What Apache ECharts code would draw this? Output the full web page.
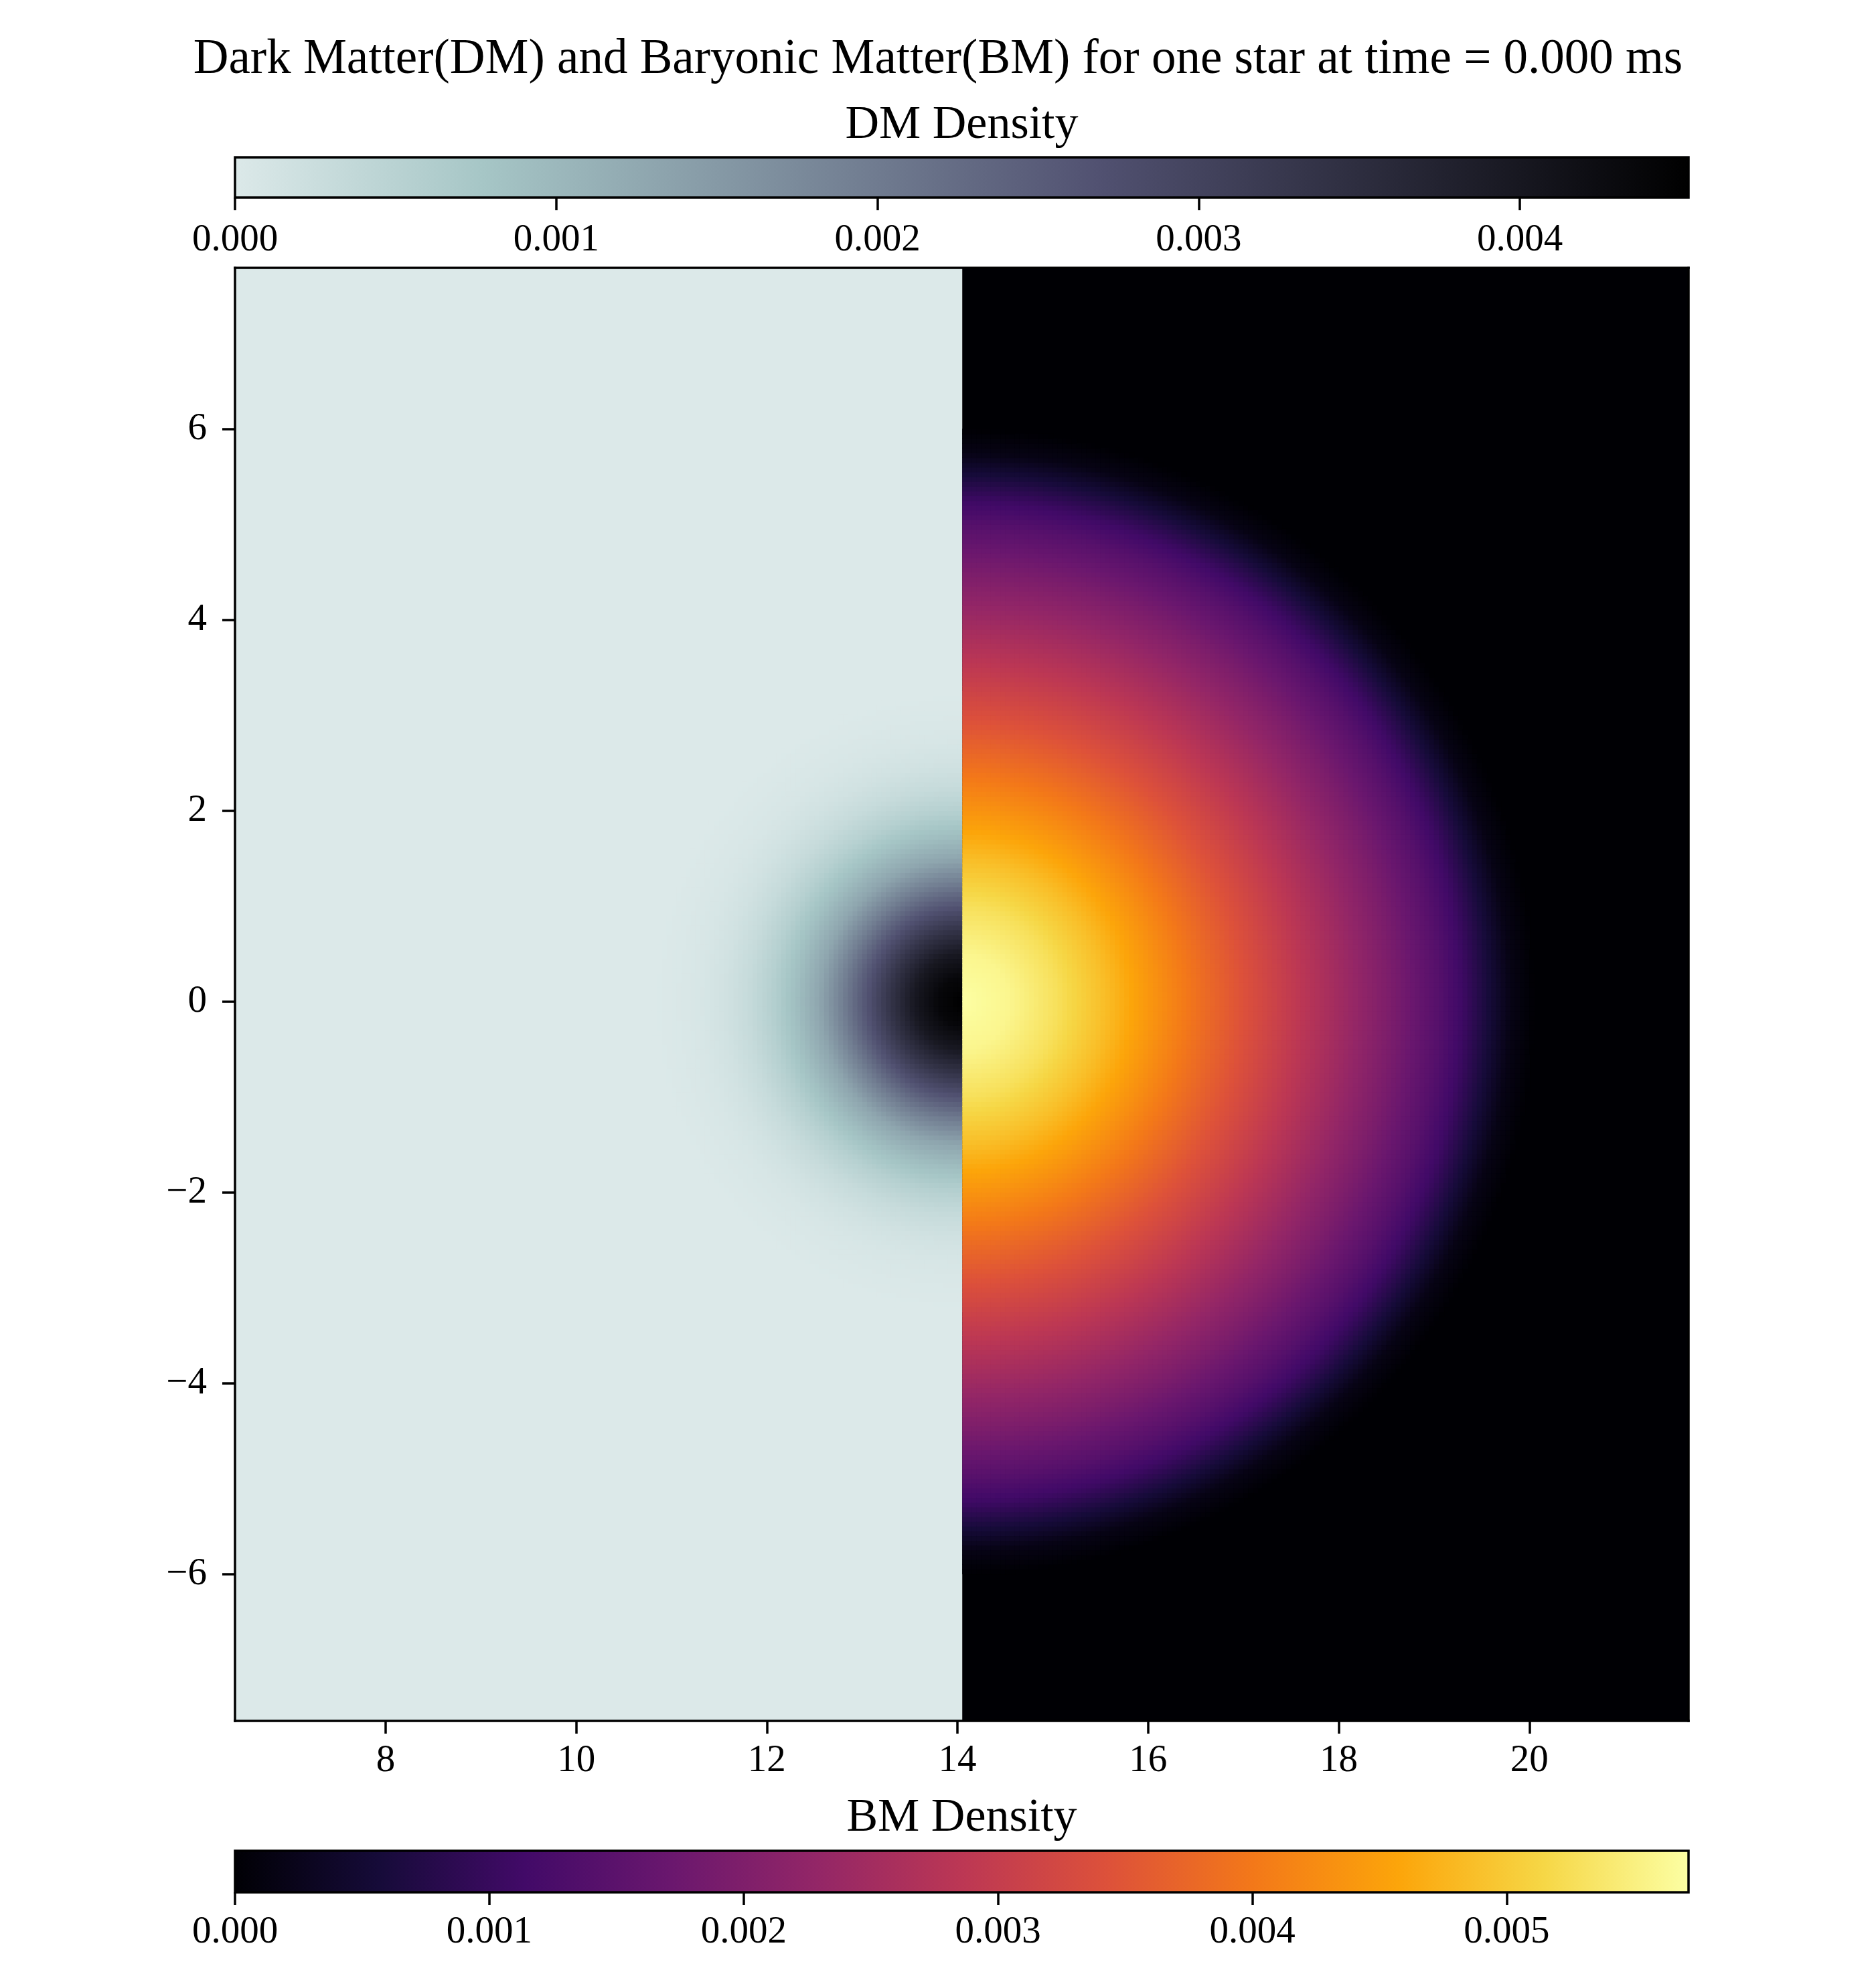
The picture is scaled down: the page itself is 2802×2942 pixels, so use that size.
<!DOCTYPE html>
<html>
<head>
<meta charset="utf-8">
<title>DM and BM density</title>
<script src="https://cdn.jsdelivr.net/npm/echarts@6/dist/echarts.min.js"></script>
<style>
  html, body { margin: 0; padding: 0; background: #fff; }
  #chart { width: 2802px; height: 2942px; }
</style>
</head>
<body>
<div id="chart"></div>
<script>
// ---- data ----
const TITLE = 'Dark Matter(DM) and Baryonic Matter(BM) for one star at time = 0.000 ms';
const STAR_CENTER = [14.05, 0];
const X_RANGE = [6.42, 21.67];
const Y_RANGE = [-7.54, 7.69];
const X_TICKS = [8, 10, 12, 14, 16, 18, 20];
const Y_TICKS = [-6, -4, -2, 0, 2, 4, 6];

// DM density, radial profile (left half)
const DM_RADIUS  = [0, 0.25, 0.5, 0.75, 1.0, 1.25, 1.5, 1.75, 2.0, 2.25, 2.5, 2.75, 3.0, 3.25];
const DM_DENSITY = [0.00452, 0.00437, 0.00398, 0.00335, 0.00265, 0.00194, 0.00130,
                    0.00089, 0.00055, 0.00031, 0.00016, 0.00007, 0.00003, 0];
const DM_MAX = 0.004525;
const DM_TICKS = [0, 0.001, 0.002, 0.003, 0.004];

// BM density, radial profile (right half)
const BM_RADIUS  = [0, 0.5, 1.0, 1.5, 2.0, 2.5, 3.0, 3.5, 4.0, 4.5, 5.0, 5.25, 5.5, 5.75, 6.0];
const BM_DENSITY = [0.00571, 0.00558, 0.00527, 0.00485, 0.00435, 0.00385, 0.00337, 0.00290,
                    0.00243, 0.00195, 0.00142, 0.00108, 0.00062, 0.00018, 0];
const BM_MAX = 0.005715;
const BM_TICKS = [0, 0.001, 0.002, 0.003, 0.004, 0.005];

// ---- colormaps ----
// bone_r, cut at 0.9 of bone
const DM_STOPS = [[0, '#dce9e9'], [0.171, '#a6c6c6'], [0.594, '#515171'], [1, '#000000']];
const INFERNO = ['#000004', '#160b39', '#420a68', '#6a176e', '#932667', '#bc3754',
                 '#dd513a', '#f37819', '#fca50a', '#f6d746', '#fcffa4'];
const BM_STOPS = INFERNO.map((c, i) => [i / (INFERNO.length - 1), c]);

function hexRgb(h) {
  return [parseInt(h.slice(1, 3), 16), parseInt(h.slice(3, 5), 16), parseInt(h.slice(5, 7), 16)];
}
const DM_RGB = DM_STOPS.map(s => [s[0], hexRgb(s[1])]);
const BM_RGB = BM_STOPS.map(s => [s[0], hexRgb(s[1])]);

function cmap(stops, t) {
  t = Math.max(0, Math.min(1, t));
  for (let i = 1; i < stops.length; i++) {
    if (t <= stops[i][0]) {
      const a = stops[i - 1], b = stops[i];
      const f = (t - a[0]) / (b[0] - a[0]);
      const c = a[1].map((v, k) => Math.round(v + (b[1][k] - v) * f));
      return 'rgb(' + c.join(',') + ')';
    }
  }
  const last = stops[stops.length - 1][1];
  return 'rgb(' + last.join(',') + ')';
}
const dmColor = v => cmap(DM_RGB, v / DM_MAX);
const bmColor = v => cmap(BM_RGB, v / BM_MAX);

function profileAt(rs, vs, r) {
  if (r >= rs[rs.length - 1]) return 0;
  for (let i = 1; i < rs.length; i++) {
    if (r <= rs[i]) {
      const f = (r - rs[i - 1]) / (rs[i] - rs[i - 1]);
      return vs[i - 1] + (vs[i] - vs[i - 1]) * f;
    }
  }
  return 0;
}

// ---- build cells: [x0, x1, y0, y1, value, side] side 0 = DM, 1 = BM ----
const STEP = 0.05;
const cells = [];
(function () {
  const xc = STAR_CENTER[0], yc = STAR_CENTER[1];
  const halves = [
    { side: 0, rs: DM_RADIUS, vs: DM_DENSITY, dir: -1 },
    { side: 1, rs: BM_RADIUS, vs: BM_DENSITY, dir: 1 }
  ];
  halves.forEach(h => {
    const rmax = h.rs[h.rs.length - 1];
    const n = Math.ceil(rmax / STEP);
    for (let i = 0; i < n; i++) {
      const xa = xc + h.dir * i * STEP, xb = xc + h.dir * (i + 1) * STEP;
      const cx = (xa + xb) / 2;
      for (let j = -n; j < n; j++) {
        const ya = yc + j * STEP, yb = ya + STEP;
        const cy = (ya + yb) / 2;
        const r = Math.hypot(cx - xc, cy - yc);
        if (r >= rmax) continue;
        const v = profileAt(h.rs, h.vs, r);
        cells.push([Math.min(xa, xb), Math.max(xa, xb), ya, yb, v, h.side]);
      }
    }
  });
})();
const backgrounds = [
  [X_RANGE[0], STAR_CENTER[0], Y_RANGE[0], Y_RANGE[1], 0, 0],
  [STAR_CENTER[0], X_RANGE[1], Y_RANGE[0], Y_RANGE[1], 0, 1]
];

function renderCell(params, api) {
  const x0 = api.value(0), x1 = api.value(1), y0 = api.value(2), y1 = api.value(3);
  const v = api.value(4), side = api.value(5);
  const a = api.coord([x0, y1]);
  const b = api.coord([x1, y0]);
  let left = a[0], right = b[0];
  if (side === 0) left -= 1; else right += 1;
  return {
    type: 'rect',
    shape: { x: left, y: a[1] - 0.5, width: right - left, height: b[1] - a[1] + 1 },
    style: { fill: side === 0 ? dmColor(v) : bmColor(v) }
  };
}

function colorbarRender(stops, max) {
  return function (params, api) {
    const p0 = api.coord([0, 0]);
    const p1 = api.coord([max, 1]);
    return {
      type: 'rect',
      shape: { x: p0[0], y: p1[1], width: p1[0] - p0[0], height: p0[1] - p1[1] },
      style: {
        fill: new echarts.graphic.LinearGradient(0, 0, 1, 0,
          stops.map(s => ({ offset: s[0], color: s[1] }))),
        stroke: '#000',
        lineWidth: 3.5
      }
    };
  };
}

const FONT = 'Liberation Serif';
const BLACK = '#000';
const plot = { left: 351, top: 400, width: 2171, height: 2170 };

const minus = v => (v < 0 ? '\u2212' + Math.abs(v) : String(v));
const frameLine = { show: true, onZero: false, lineStyle: { color: BLACK, width: 3.5, cap: 'square' } };
const tickStyle = { show: true, length: 19, lineStyle: { color: BLACK, width: 3.5 } };
const labelStyle = { color: BLACK, fontFamily: FONT, fontSize: 57 };

const chart = echarts.init(document.getElementById('chart'));
chart.setOption({
  animation: false,
  backgroundColor: '#fff',
  graphic: [
    { type: 'text', x: 1401, y: 90, style: { text: TITLE, fontFamily: FONT, fontSize: 73, fill: BLACK, align: 'center', verticalAlign: 'middle' } },
    { type: 'text', x: 1436.5, y: 188, style: { text: 'DM Density', fontFamily: FONT, fontSize: 70, fill: BLACK, align: 'center', verticalAlign: 'middle' } },
    { type: 'text', x: 1436.5, y: 2716, style: { text: 'BM Density', fontFamily: FONT, fontSize: 70, fill: BLACK, align: 'center', verticalAlign: 'middle' } }
  ],
  grid: [
    plot,
    { left: 351, top: 235, width: 2171, height: 60 },
    { left: 351, top: 2764, width: 2171, height: 62 }
  ],
  xAxis: [
    {
      type: 'value', gridIndex: 0, position: 'bottom', min: X_RANGE[0], max: X_RANGE[1], z: 10,
      axisLine: frameLine, splitLine: { show: false },
      axisTick: Object.assign({ customValues: X_TICKS }, tickStyle),
      axisLabel: Object.assign({ customValues: X_TICKS, margin: 32, formatter: minus }, labelStyle)
    },
    {
      type: 'value', gridIndex: 0, position: 'top', min: X_RANGE[0], max: X_RANGE[1], z: 10,
      axisLine: frameLine, splitLine: { show: false }, axisTick: { show: false }, axisLabel: { show: false }
    },
    {
      type: 'value', gridIndex: 1, position: 'bottom', min: 0, max: DM_MAX, z: 10,
      axisLine: { show: false, onZero: false }, splitLine: { show: false },
      axisTick: Object.assign({ customValues: DM_TICKS }, tickStyle),
      axisLabel: Object.assign({ customValues: DM_TICKS, margin: 36, formatter: v => v.toFixed(3) }, labelStyle)
    },
    {
      type: 'value', gridIndex: 2, position: 'bottom', min: 0, max: BM_MAX, z: 10,
      axisLine: { show: false, onZero: false }, splitLine: { show: false },
      axisTick: Object.assign({ customValues: BM_TICKS }, tickStyle),
      axisLabel: Object.assign({ customValues: BM_TICKS, margin: 32, formatter: v => v.toFixed(3) }, labelStyle)
    }
  ],
  yAxis: [
    {
      type: 'value', gridIndex: 0, position: 'left', min: Y_RANGE[0], max: Y_RANGE[1], z: 10,
      axisLine: frameLine, splitLine: { show: false },
      axisTick: Object.assign({ customValues: Y_TICKS }, tickStyle),
      axisLabel: Object.assign({ customValues: Y_TICKS, margin: 42, formatter: minus }, labelStyle)
    },
    {
      type: 'value', gridIndex: 0, position: 'right', min: Y_RANGE[0], max: Y_RANGE[1], z: 10,
      axisLine: frameLine, splitLine: { show: false }, axisTick: { show: false }, axisLabel: { show: false }
    },
    { type: 'value', gridIndex: 1, min: 0, max: 1, show: false },
    { type: 'value', gridIndex: 2, min: 0, max: 1, show: false }
  ],
  series: [
    {
      name: 'background', type: 'custom', xAxisIndex: 0, yAxisIndex: 0, clip: true,
      renderItem: renderCell, encode: { x: [0, 1], y: [2, 3] }, data: backgrounds, silent: true
    },
    {
      name: 'density', type: 'custom', xAxisIndex: 0, yAxisIndex: 0, clip: true,
      progressive: 0, renderItem: renderCell, encode: { x: [0, 1], y: [2, 3] }, data: cells, silent: true
    },
    {
      name: 'DM colorbar', type: 'custom', xAxisIndex: 2, yAxisIndex: 2,
      renderItem: colorbarRender(DM_STOPS, DM_MAX), data: [[0, 0]], silent: true
    },
    {
      name: 'BM colorbar', type: 'custom', xAxisIndex: 3, yAxisIndex: 3,
      renderItem: colorbarRender(BM_STOPS, BM_MAX), data: [[0, 0]], silent: true
    }
  ]
});
</script>
</body>
</html>
